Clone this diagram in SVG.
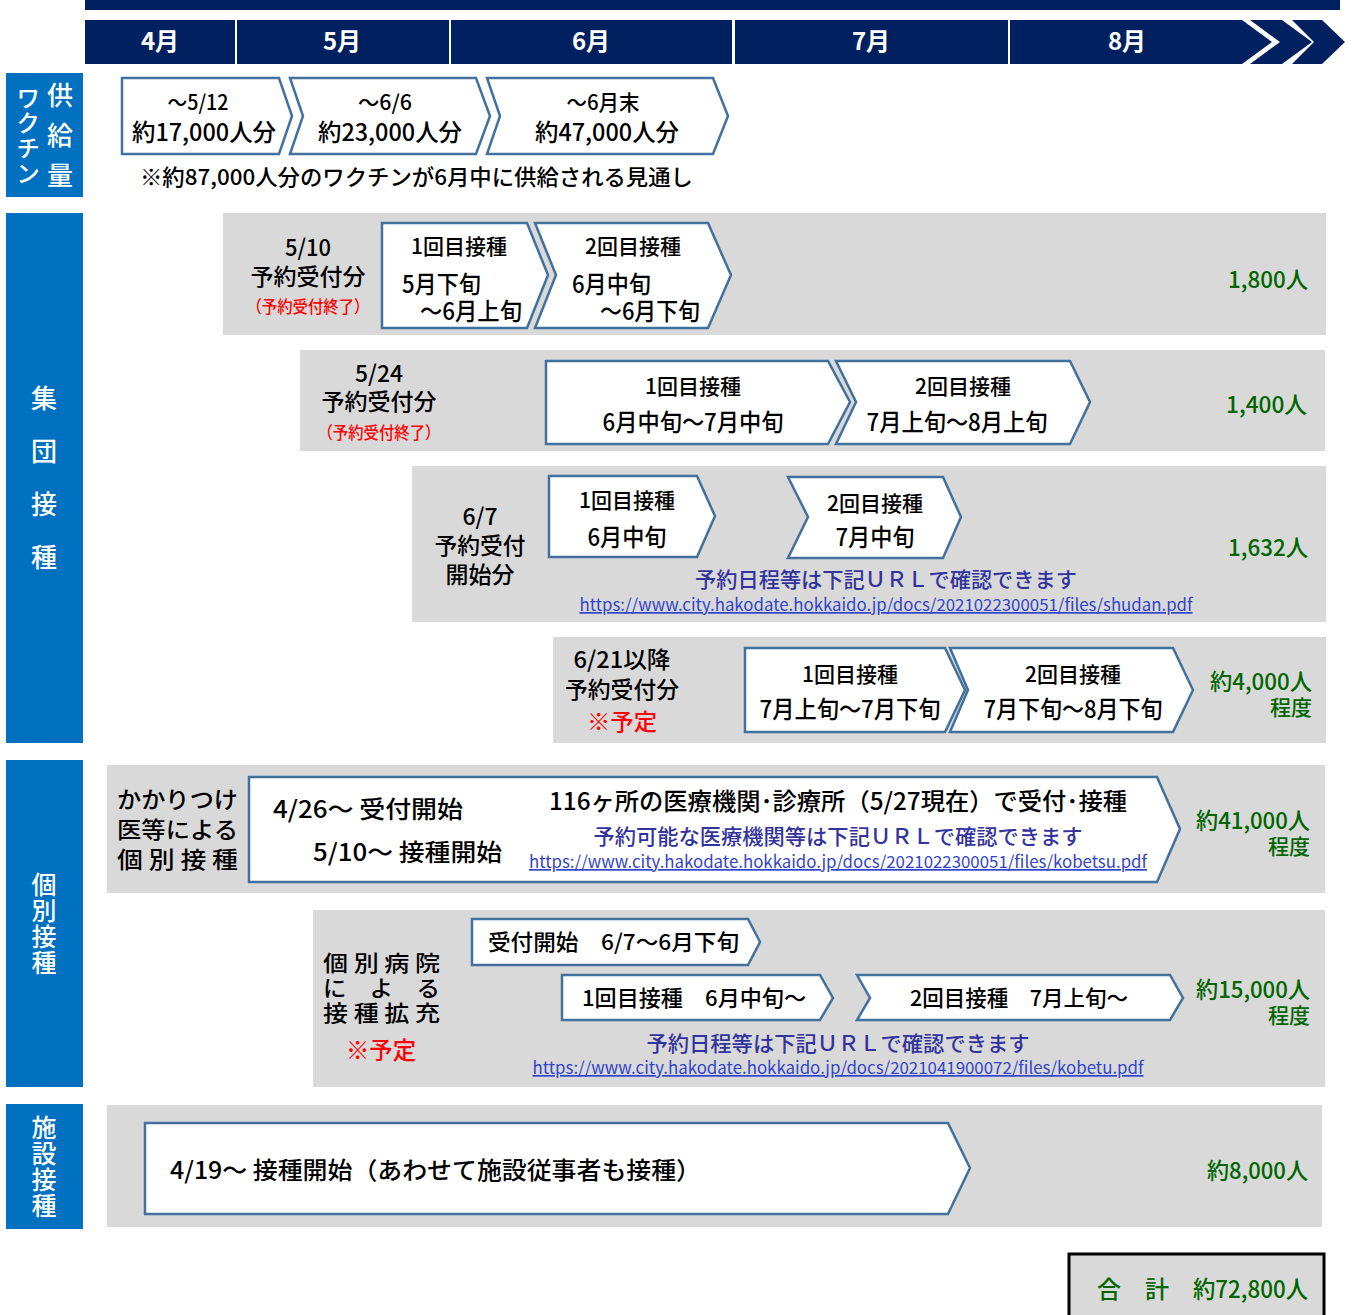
<svg xmlns="http://www.w3.org/2000/svg" width="1352" height="1315" viewBox="0 0 1352 1315">
<style>
text{font-family:"Noto Sans CJK JP","Noto Sans",sans-serif;fill:#000;font-weight:500}
.m{fill:#fff;font-weight:bold;font-size:24px;text-anchor:middle}
.side{fill:#0070C0}
.v{fill:#fff;writing-mode:vertical-rl}
.bg{fill:#D9D9D9}
.sh{fill:#fff;stroke:#41719C;stroke-width:2.5}
.g{fill:#006600}
.r{fill:#FF0000}
.n{fill:#3333A0}
.u{fill:#3344CC;text-decoration:underline;font-weight:400}
</style>
<rect width="1352" height="1315" fill="#fff"/>

<g id="header">
<rect x="85" y="0" width="1255" height="10" fill="#002060"/>
<rect x="85" y="20" width="150" height="44" fill="#002060"/>
<rect x="237" y="20" width="212" height="44" fill="#002060"/>
<rect x="451" y="20" width="281" height="44" fill="#002060"/>
<rect x="735" y="20" width="273" height="44" fill="#002060"/>
<path d="M1010 20 H1242 L1272 42 L1242 64 H1010 Z" fill="#002060"/>
<path d="M1250 20 H1282 L1312 42 L1282 64 H1250 L1280 42 Z" fill="#002060"/>
<path d="M1292 20 H1322 L1345 42 L1322 64 H1292 L1314 42 Z" fill="#002060"/>
<text class="m" x="160" y="50">4月</text>
<text class="m" x="342" y="50">5月</text>
<text class="m" x="591" y="50">6月</text>
<text class="m" x="871" y="50">7月</text>
<text class="m" x="1127" y="50">8月</text>
</g>

<g id="label-supply">
<rect class="side" x="6" y="73" width="77" height="124"/>
<text class="v" x="28" y="86" font-size="24" letter-spacing="1">ワクチン</text>
<text class="v" x="60" y="82" font-size="26" letter-spacing="14">供給量</text>
</g>

<g id="supply">
<path class="sh" d="M122 78 H279 L292 116 L279 154 H122 Z"/>
<path class="sh" d="M290 78 H476 L490 116 L476 154 H290 L303 116 Z"/>
<path class="sh" d="M487 78 H713 L728 116 L713 154 H487 L500 116 Z"/>
<text><tspan x="167.5" y="110" font-size="21" textLength="61" lengthAdjust="spacingAndGlyphs">～5/12</tspan><tspan x="132" y="141" font-size="24" textLength="144" lengthAdjust="spacingAndGlyphs">約17,000人分</tspan></text>
<text><tspan x="358" y="110" font-size="21" textLength="54" lengthAdjust="spacingAndGlyphs">～6/6</tspan><tspan x="318" y="141" font-size="24" textLength="144" lengthAdjust="spacingAndGlyphs">約23,000人分</tspan></text>
<text><tspan x="566.5" y="110" font-size="21" textLength="73" lengthAdjust="spacingAndGlyphs">～6月末</tspan><tspan x="535" y="141" font-size="24" textLength="144" lengthAdjust="spacingAndGlyphs">約47,000人分</tspan></text>
<text x="140" y="185" font-size="22" textLength="553" lengthAdjust="spacingAndGlyphs">※約87,000人分のワクチンが6月中に供給される見通し</text>
</g>

<g id="label-group">
<rect class="side" x="6" y="213" width="77" height="530"/>
<text class="v" x="44" y="385" font-size="26" letter-spacing="27">集団接種</text>
</g>

<g id="group-0510">
<rect class="bg" x="223" y="213" width="1103" height="122"/>
<text font-size="23"><tspan x="285" y="256" textLength="46" lengthAdjust="spacingAndGlyphs">5/10</tspan><tspan x="250.5" y="285" textLength="115" lengthAdjust="spacingAndGlyphs">予約受付分</tspan><tspan class="r" x="246.5" y="313" font-size="17" textLength="123" lengthAdjust="spacingAndGlyphs">（予約受付終了）</tspan></text>
<path class="sh" d="M382 223 H527 L548 275 L527 328 H382 Z"/>
<path class="sh" d="M535 223 H708 L731 275 L708 328 H535 L556 275 Z"/>
<text font-size="24"><tspan x="411" y="254" font-size="21" textLength="96" lengthAdjust="spacingAndGlyphs">1回目接種</tspan><tspan x="402" y="293" textLength="79" lengthAdjust="spacingAndGlyphs">5月下旬</tspan><tspan x="420" y="320" textLength="102" lengthAdjust="spacingAndGlyphs">～6月上旬</tspan></text>
<text font-size="24"><tspan x="585" y="254" font-size="21" textLength="96" lengthAdjust="spacingAndGlyphs">2回目接種</tspan><tspan x="572" y="293" textLength="79" lengthAdjust="spacingAndGlyphs">6月中旬</tspan><tspan x="600" y="320" textLength="100" lengthAdjust="spacingAndGlyphs">～6月下旬</tspan></text>
<text class="g" x="1228" y="288" font-size="23" textLength="80" lengthAdjust="spacingAndGlyphs">1,800人</text>
</g>

<g id="group-0524">
<rect class="bg" x="300" y="350" width="1025" height="101"/>
<text font-size="23"><tspan x="355" y="382" textLength="48" lengthAdjust="spacingAndGlyphs">5/24</tspan><tspan x="321.5" y="410" textLength="115" lengthAdjust="spacingAndGlyphs">予約受付分</tspan><tspan class="r" x="317.5" y="439" font-size="17" textLength="123" lengthAdjust="spacingAndGlyphs">（予約受付終了）</tspan></text>
<path class="sh" d="M546 361 H828 L850 402 L828 444 H546 Z"/>
<path class="sh" d="M836 361 H1070 L1090 402 L1070 444 H836 L856 402 Z"/>
<text font-size="24"><tspan x="645" y="394" font-size="21" textLength="96" lengthAdjust="spacingAndGlyphs">1回目接種</tspan><tspan x="602.5" y="431" textLength="181" lengthAdjust="spacingAndGlyphs">6月中旬～7月中旬</tspan></text>
<text font-size="24"><tspan x="915" y="394" font-size="21" textLength="96" lengthAdjust="spacingAndGlyphs">2回目接種</tspan><tspan x="866.5" y="431" textLength="181" lengthAdjust="spacingAndGlyphs">7月上旬～8月上旬</tspan></text>
<text class="g" x="1226" y="413" font-size="23" textLength="81" lengthAdjust="spacingAndGlyphs">1,400人</text>
</g>

<g id="group-0607">
<rect class="bg" x="412" y="466" width="914" height="156"/>
<text font-size="23"><tspan x="462.5" y="525" textLength="35" lengthAdjust="spacingAndGlyphs">6/7</tspan><tspan x="434.5" y="554" textLength="91" lengthAdjust="spacingAndGlyphs">予約受付</tspan><tspan x="445.5" y="583" textLength="69" lengthAdjust="spacingAndGlyphs">開始分</tspan></text>
<path class="sh" d="M549 476 H697 L715 516 L697 557 H549 Z"/>
<path class="sh" d="M788 477 H943 L961 517 L943 558 H788 L808 517 Z"/>
<text font-size="24"><tspan x="579" y="508" font-size="21" textLength="96" lengthAdjust="spacingAndGlyphs">1回目接種</tspan><tspan x="587.5" y="546" textLength="79" lengthAdjust="spacingAndGlyphs">6月中旬</tspan></text>
<text font-size="24"><tspan x="827" y="511" font-size="21" textLength="96" lengthAdjust="spacingAndGlyphs">2回目接種</tspan><tspan x="835.5" y="546" textLength="79" lengthAdjust="spacingAndGlyphs">7月中旬</tspan></text>
<text><tspan class="n" x="695" y="587" font-size="21" textLength="382" lengthAdjust="spacingAndGlyphs">予約日程等は下記ＵＲＬで確認できます</tspan><tspan class="u" x="579.5" y="611" font-size="17" textLength="613" lengthAdjust="spacingAndGlyphs">https://www.city.hakodate.hokkaido.jp/docs/2021022300051/files/shudan.pdf</tspan></text>
<text class="g" x="1228" y="556" font-size="23" textLength="80" lengthAdjust="spacingAndGlyphs">1,632人</text>
</g>

<g id="group-0621">
<rect class="bg" x="553" y="637" width="773" height="106"/>
<text font-size="23"><tspan x="573.5" y="668" textLength="97" lengthAdjust="spacingAndGlyphs">6/21以降</tspan><tspan x="565" y="698" textLength="114" lengthAdjust="spacingAndGlyphs">予約受付分</tspan><tspan class="r" x="587" y="730" textLength="70" lengthAdjust="spacingAndGlyphs">※予定</tspan></text>
<path class="sh" d="M745 648 H945 L965 690 L945 732 H745 Z"/>
<path class="sh" d="M950 648 H1173 L1193 690 L1173 732 H950 L968 690 Z"/>
<text font-size="24"><tspan x="802" y="682" font-size="21" textLength="96" lengthAdjust="spacingAndGlyphs">1回目接種</tspan><tspan x="759.5" y="718" textLength="181" lengthAdjust="spacingAndGlyphs">7月上旬～7月下旬</tspan></text>
<text font-size="24"><tspan x="1025" y="682" font-size="21" textLength="96" lengthAdjust="spacingAndGlyphs">2回目接種</tspan><tspan x="983.5" y="718" textLength="179" lengthAdjust="spacingAndGlyphs">7月下旬～8月下旬</tspan></text>
<text class="g"><tspan x="1210" y="690" font-size="23" textLength="102" lengthAdjust="spacingAndGlyphs">約4,000人</tspan><tspan x="1270" y="715" font-size="21" textLength="42" lengthAdjust="spacingAndGlyphs">程度</tspan></text>
</g>

<g id="label-individual">
<rect class="side" x="6" y="760" width="77" height="327"/>
<text class="v" x="44" y="872" font-size="25" letter-spacing="1">個別接種</text>
</g>

<g id="individual-clinic">
<rect class="bg" x="107" y="765" width="1218" height="128"/>
<text font-size="23"><tspan x="117" y="808" textLength="121" lengthAdjust="spacingAndGlyphs">かかりつけ</tspan><tspan x="117" y="838" textLength="121" lengthAdjust="spacingAndGlyphs">医等による</tspan><tspan x="117" y="868" textLength="121" lengthAdjust="spacingAndGlyphs">個 別 接 種</tspan></text>
<path class="sh" d="M249 777 H1157 L1180 829 L1157 882 H249 Z"/>
<text font-size="24"><tspan x="273" y="818" textLength="190" lengthAdjust="spacingAndGlyphs">4/26～  受付開始</tspan><tspan x="313" y="861" textLength="189" lengthAdjust="spacingAndGlyphs">5/10～  接種開始</tspan></text>
<text><tspan x="549" y="810" font-size="24" textLength="578" lengthAdjust="spacingAndGlyphs">116ヶ所の医療機関･診療所（5/27現在）で受付･接種</tspan><tspan class="n" x="593.5" y="844" font-size="21" textLength="489" lengthAdjust="spacingAndGlyphs">予約可能な医療機関等は下記ＵＲＬで確認できます</tspan><tspan class="u" x="529" y="868" font-size="17" textLength="618" lengthAdjust="spacingAndGlyphs">https://www.city.hakodate.hokkaido.jp/docs/2021022300051/files/kobetsu.pdf</tspan></text>
<text class="g"><tspan x="1196" y="829" font-size="23" textLength="114" lengthAdjust="spacingAndGlyphs">約41,000人</tspan><tspan x="1268" y="854" font-size="21" textLength="42" lengthAdjust="spacingAndGlyphs">程度</tspan></text>
</g>

<g id="individual-hospital">
<rect class="bg" x="313" y="910" width="1012" height="177"/>
<text font-size="22"><tspan x="323" y="971" textLength="117" lengthAdjust="spacingAndGlyphs">個 別 病 院</tspan><tspan x="323" y="996" textLength="117" lengthAdjust="spacingAndGlyphs">に　よ　る</tspan><tspan x="323" y="1021" textLength="117" lengthAdjust="spacingAndGlyphs">接 種 拡 充</tspan><tspan class="r" x="346" y="1059" font-size="24" textLength="70" lengthAdjust="spacingAndGlyphs">※予定</tspan></text>
<path class="sh" d="M472 919 H748 L760 942 L748 965 H472 Z"/>
<path class="sh" d="M562 975 H820 L833 998 L820 1020 H562 Z"/>
<path class="sh" d="M857 975 H1170 L1183 998 L1170 1020 H857 L870 998 Z"/>
<text x="488" y="950" font-size="22" textLength="251" lengthAdjust="spacingAndGlyphs">受付開始　6/7～6月下旬</text>
<text x="582" y="1006" font-size="22" textLength="224" lengthAdjust="spacingAndGlyphs">1回目接種　6月中旬～</text>
<text x="910" y="1006" font-size="22" textLength="218" lengthAdjust="spacingAndGlyphs">2回目接種　7月上旬～</text>
<text><tspan class="n" x="646.5" y="1051" font-size="21" textLength="383" lengthAdjust="spacingAndGlyphs">予約日程等は下記ＵＲＬで確認できます</tspan><tspan class="u" x="532.5" y="1074" font-size="17" textLength="611" lengthAdjust="spacingAndGlyphs">https://www.city.hakodate.hokkaido.jp/docs/2021041900072/files/kobetu.pdf</tspan></text>
<text class="g"><tspan x="1196" y="998" font-size="23" textLength="114" lengthAdjust="spacingAndGlyphs">約15,000人</tspan><tspan x="1268" y="1023" font-size="21" textLength="42" lengthAdjust="spacingAndGlyphs">程度</tspan></text>
</g>

<g id="label-facility">
<rect class="side" x="6" y="1104" width="77" height="125"/>
<text class="v" x="44" y="1115" font-size="25" letter-spacing="1">施設接種</text>
</g>

<g id="facility">
<rect class="bg" x="107" y="1105" width="1215" height="122"/>
<path class="sh" d="M145 1123 H948 L970 1168 L948 1214 H145 Z"/>
<text x="170" y="1179" font-size="24" textLength="531" lengthAdjust="spacingAndGlyphs">4/19～  接種開始（あわせて施設従事者も接種）</text>
<text class="g" x="1207" y="1179" font-size="23" textLength="101" lengthAdjust="spacingAndGlyphs">約8,000人</text>
</g>

<g id="total">
<rect x="1069" y="1254" width="255" height="64" fill="#D9D9D9" stroke="#000" stroke-width="3"/>
<text class="g" font-size="24"><tspan x="1097" y="1298">合</tspan><tspan x="1145" y="1298">計</tspan><tspan x="1193" y="1298" textLength="115" lengthAdjust="spacingAndGlyphs">約72,800人</tspan></text>
</g>

<g id="connectors"></g>
</svg>
